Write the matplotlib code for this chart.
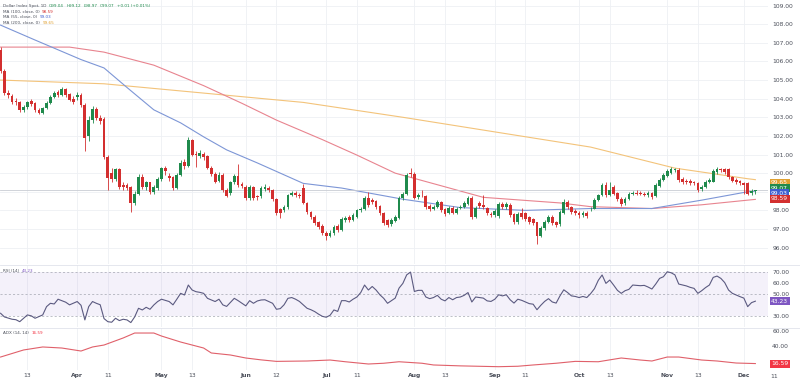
import matplotlib.pyplot as plt
from matplotlib.transforms import blended_transform_factory

# daily candles, Dollar Index Spot (index 0 = first visible bar)
opens = [
    106.60, 105.50, 104.30, 104.15, 103.90, 103.80, 103.40, 103.55, 103.85, 103.75,
    103.40, 103.25, 103.50, 103.75, 104.10, 104.35, 104.20, 104.50, 104.25, 104.00,
    104.10, 104.20, 103.65, 102.00, 102.85, 103.45, 102.95, 102.90, 100.85, 100.00,
    99.70, 100.20, 99.35, 99.35, 99.25, 98.40, 98.90, 99.80, 99.25, 99.50,
    99.00, 99.20, 99.70, 100.25, 99.85, 99.80, 99.20, 99.90, 100.60, 100.40,
    101.80, 101.05, 100.90, 101.05, 100.90, 100.30, 99.95, 99.60, 99.90, 99.10,
    98.95, 99.50, 99.85, 99.40, 99.25, 98.65, 99.25, 98.75, 98.75, 99.15,
    99.20, 99.10, 98.60, 98.05, 98.00, 98.20, 98.85, 98.95, 98.85, 99.20,
    98.40, 97.90, 97.65, 97.35, 97.15, 96.80, 96.65, 96.80, 97.15, 96.95,
    97.50, 97.65, 97.50, 97.65, 98.00, 98.05, 98.65, 98.55, 98.50, 98.25,
    97.85, 97.50, 97.25, 97.45, 97.60, 98.65, 98.90, 100.00, 99.95, 98.70,
    98.85, 98.75, 98.25, 98.10, 98.20, 98.45, 98.05, 97.85, 98.15, 97.85,
    98.15, 98.20, 98.35, 98.65, 97.65, 98.40, 98.30, 98.15, 97.80, 97.75,
    97.70, 98.35, 98.20, 98.30, 97.80, 97.35, 97.85, 97.85, 97.65, 97.55,
    97.35, 96.65, 97.05, 97.40, 97.65, 97.35, 97.25, 97.85, 98.45, 98.20,
    97.95, 97.85, 97.75, 97.85, 98.05, 98.10, 98.55, 98.80, 99.35, 98.85,
    99.25, 98.95, 98.60, 98.40, 98.60, 98.90, 98.95, 98.95, 98.90, 98.80,
    98.95, 98.75, 99.30, 99.65, 99.85, 100.00, 100.15, 100.15, 99.70, 99.60,
    99.60, 99.50, 99.45, 99.15, 99.25, 99.50, 99.55, 100.05, 100.20, 100.20,
    100.20, 99.80, 99.65, 99.60, 99.45, 99.45, 98.95, 99.04,
]
highs = [
    106.75, 105.60, 104.45, 104.25, 104.05, 103.90, 103.65, 103.90, 104.00, 103.80,
    103.50, 103.55, 103.85, 104.20, 104.40, 104.45, 104.65, 104.60, 104.30, 104.15,
    104.35, 104.30, 103.75, 103.05, 103.60, 103.55, 103.10, 103.00, 101.00, 100.25,
    100.30, 100.30, 99.50, 99.45, 99.30, 99.05, 99.95, 99.95, 99.60, 99.55,
    99.35, 99.80, 100.35, 100.40, 100.00, 99.85, 100.00, 100.70, 100.75, 101.95,
    101.85, 101.20, 101.25, 101.15, 100.95, 100.40, 100.05, 100.05, 100.00, 99.20,
    99.60, 99.95, 100.50, 99.50, 99.35, 99.35, 99.30, 98.85, 99.30, 99.40,
    99.30, 99.15, 98.65, 98.15, 98.30, 98.90, 99.05, 99.05, 98.95, 99.40,
    98.45, 97.95, 97.75, 97.45, 97.25, 96.90, 96.95, 97.20, 97.25, 97.65,
    97.70, 97.75, 97.85, 98.10, 98.20, 98.75, 99.00, 98.65, 98.55, 98.30,
    97.90, 97.55, 97.60, 97.75, 98.75, 99.00, 100.00, 100.25, 100.05, 98.95,
    99.10, 98.85, 98.35, 98.30, 98.55, 98.50, 98.15, 98.25, 98.25, 98.20,
    98.30, 98.50, 98.75, 98.75, 98.25, 98.50, 98.80, 98.20, 97.90, 98.05,
    98.45, 98.45, 98.45, 98.40, 97.85, 97.90, 98.15, 97.90, 97.70, 97.60,
    97.40, 97.15, 97.50, 97.75, 97.75, 97.45, 98.00, 98.60, 98.55, 98.25,
    98.05, 97.95, 97.95, 97.95, 98.20, 98.65, 98.90, 99.45, 99.50, 99.50,
    99.35, 99.00, 98.70, 98.70, 99.00, 99.05, 99.10, 99.05, 99.00, 99.05,
    99.00, 99.45, 99.75, 100.00, 100.20, 100.35, 100.30, 100.25, 99.80, 99.70,
    99.70, 99.60, 99.55, 99.35, 99.65, 99.75, 100.20, 100.35, 100.30, 100.30,
    100.25, 99.85, 99.75, 99.65, 99.55, 99.50, 99.15, 99.12,
]
lows = [
    105.40, 104.20, 104.05, 103.70, 103.65, 103.30, 103.30, 103.45, 103.60, 103.30,
    103.15, 103.20, 103.45, 103.70, 104.05, 104.10, 104.15, 104.10, 103.85, 103.70,
    103.95, 103.55, 101.20, 101.75, 102.70, 102.85, 102.65, 100.75, 99.10, 99.55,
    99.60, 99.15, 99.10, 99.10, 97.90, 98.30, 98.85, 99.15, 99.10, 98.90,
    98.90, 99.10, 99.60, 99.90, 99.60, 99.10, 99.15, 99.85, 100.20, 100.35,
    100.90, 100.35, 100.80, 100.70, 100.20, 99.85, 99.45, 99.50, 99.00, 98.70,
    98.85, 99.40, 99.25, 99.20, 98.55, 98.55, 98.55, 98.55, 98.65, 99.05,
    99.00, 98.50, 97.75, 97.60, 97.90, 98.10, 98.75, 98.70, 98.65, 98.35,
    97.80, 97.55, 97.20, 97.00, 96.70, 96.40, 96.55, 96.70, 96.85, 96.90,
    97.40, 97.40, 97.45, 97.60, 97.90, 98.00, 98.20, 98.35, 98.10, 97.75,
    97.20, 97.10, 97.15, 97.35, 97.55, 98.55, 98.85, 99.80, 98.60, 98.60,
    98.70, 98.10, 97.95, 98.00, 98.15, 97.90, 97.70, 97.80, 97.80, 97.80,
    98.10, 98.15, 98.30, 97.55, 97.60, 98.15, 98.10, 97.75, 97.65, 97.65,
    97.60, 98.10, 98.10, 97.65, 97.25, 97.25, 97.55, 97.45, 97.25, 97.20,
    96.20, 96.55, 96.95, 97.30, 97.20, 97.10, 97.15, 97.80, 98.10, 97.80,
    97.75, 97.60, 97.65, 97.60, 97.95, 98.05, 98.50, 98.75, 98.70, 98.75,
    98.80, 98.50, 98.25, 98.30, 98.55, 98.80, 98.80, 98.80, 98.75, 98.70,
    98.60, 98.70, 99.25, 99.60, 99.80, 99.95, 100.05, 99.55, 99.40, 99.40,
    99.35, 99.35, 99.00, 99.05, 99.20, 99.45, 99.50, 99.95, 100.05, 99.95,
    99.70, 99.50, 99.40, 99.35, 98.90, 98.80, 98.85, 98.87,
]
closes = [
    105.50, 104.30, 104.20, 103.80, 103.80, 103.40, 103.55, 103.80, 103.70, 103.40,
    103.25, 103.50, 103.75, 104.10, 104.30, 104.20, 104.50, 104.20, 103.95, 103.80,
    104.20, 103.65, 101.90, 102.85, 103.45, 102.95, 102.80, 100.85, 99.75, 99.70,
    100.20, 99.25, 99.25, 99.20, 98.40, 98.90, 99.80, 99.25, 99.50, 99.00,
    99.25, 99.70, 100.25, 100.10, 99.75, 99.20, 99.90, 100.55, 100.40, 101.80,
    101.00, 100.95, 101.10, 100.85, 100.30, 99.95, 99.55, 99.90, 99.10, 98.75,
    99.50, 99.85, 99.35, 99.30, 98.65, 99.25, 98.65, 98.70, 99.20, 99.25,
    99.10, 98.60, 97.85, 97.85, 98.20, 98.80, 98.95, 98.85, 98.75, 98.40,
    97.90, 97.65, 97.30, 97.10, 96.80, 96.60, 96.80, 97.10, 96.95, 97.55,
    97.60, 97.50, 97.75, 98.00, 98.10, 98.65, 98.30, 98.45, 98.20, 97.85,
    97.30, 97.20, 97.50, 97.65, 98.65, 98.90, 99.90, 99.95, 98.65, 98.80,
    98.80, 98.20, 98.05, 98.20, 98.45, 98.00, 97.80, 98.15, 97.85, 98.10,
    98.20, 98.40, 98.65, 97.65, 98.15, 98.25, 98.20, 97.85, 97.75, 97.95,
    98.35, 98.20, 98.35, 97.75, 97.35, 97.80, 97.65, 97.55, 97.35, 97.30,
    96.65, 97.05, 97.40, 97.65, 97.30, 97.20, 97.90, 98.45, 98.20, 97.90,
    97.85, 97.75, 97.85, 97.70, 98.10, 98.55, 98.80, 99.35, 98.80, 99.10,
    98.90, 98.60, 98.35, 98.60, 98.90, 98.95, 98.90, 98.90, 98.85, 98.95,
    98.70, 99.35, 99.65, 99.90, 100.10, 100.20, 100.20, 99.65, 99.50, 99.50,
    99.45, 99.45, 99.10, 99.25, 99.55, 99.65, 100.10, 100.20, 100.15, 100.05,
    99.80, 99.60, 99.50, 99.45, 99.35, 98.90, 99.05, 99.07,
]

# moving averages (bar index, value)
ma55_idx = [0, 9, 21, 27, 33, 40, 47, 53, 59, 67, 79, 89, 105, 120, 137, 154, 170, 183, 195, 197]
ma55_val = [107.95, 107.15, 106.1, 105.65, 104.6, 103.4, 102.7, 101.95, 101.25, 100.55,
            99.45, 99.2, 98.6, 98.15, 98.0, 98.1, 98.1, 98.55, 99.0, 99.03]
ma100_idx = [0, 18, 27, 40, 53, 63, 72, 84, 93, 103, 126, 146, 154, 170, 183, 195, 197]
ma100_val = [106.77, 106.77, 106.5, 105.8, 104.7, 103.75, 102.85, 101.8, 100.97, 100.0,
             98.7, 98.4, 98.2, 98.1, 98.3, 98.55, 98.59]
ma200_idx = [0, 27, 53, 79, 105, 131, 154, 176, 195, 197]
ma200_val = [105.0, 104.8, 104.3, 103.8, 103.0, 102.15, 101.4, 100.27, 99.7, 99.65]

rsi_idx = [0, 1, 3, 4, 5, 6, 7, 8, 9, 11, 12, 13, 14, 15, 17, 18, 20, 21, 22, 23,
           24, 25, 26, 27, 28, 29, 30, 31, 32, 33, 34, 35, 36, 37, 38, 39, 40, 41, 42, 44,
           45, 46, 47, 48, 49, 50, 51, 52, 53, 54, 56, 57, 58, 59, 61, 62, 63, 64, 65, 66,
           67, 68, 69, 70, 71, 72, 73, 74, 75, 76, 77, 78, 79, 80, 81, 82, 83, 84, 85, 86,
           87, 88, 89, 90, 91, 92, 93, 94, 95, 96, 97, 98, 99, 100, 101, 102, 103, 104, 105, 106,
           107, 108, 109, 110, 111, 112, 113, 114, 115, 116, 117, 118, 119, 120, 121, 122, 123, 124, 125, 126,
           127, 128, 129, 130, 131, 132, 133, 134, 135, 136, 137, 138, 139, 140, 141, 142, 143, 144, 145, 146,
           147, 148, 149, 150, 151, 152, 153, 154, 155, 156, 157, 158, 159, 160, 161, 162, 163, 164, 165, 166,
           167, 168, 169, 170, 171, 172, 173, 174, 175, 176, 177, 178, 179, 180, 181, 182, 183, 184, 185, 186,
           187, 188, 189, 190, 191, 192, 193, 194, 195, 196, 197]
rsi_val = [32.3, 29.0, 26.9, 26.5, 24.7, 27.8, 30.8, 30.0, 27.8, 30.8, 38.3, 41.3, 40.7, 45.0, 42.3, 39.9, 42.9, 39.5, 26.3, 38.3,
           42.9, 41.3, 40.0, 27.5, 24.7, 24.2, 27.8, 25.7, 26.9, 26.3, 23.9, 29.0, 36.8, 35.3, 37.7, 35.9, 39.8, 42.9, 45.0, 42.9,
           39.9, 45.0, 50.3, 48.8, 57.8, 53.3, 51.8, 51.2, 50.3, 45.8, 42.9, 45.0, 39.9, 38.5, 45.8, 43.7, 41.3, 39.0, 43.7, 41.3,
           43.4, 44.3, 44.5, 42.9, 41.3, 35.9, 36.5, 40.0, 45.8, 46.5, 45.0, 43.0, 39.9, 36.8, 35.5, 33.8, 31.5, 29.5, 28.7, 30.5,
           35.3, 34.0, 43.7, 43.7, 42.5, 45.0, 47.0, 51.0, 57.8, 53.3, 56.5, 53.3, 49.0, 45.8, 41.3, 43.7, 46.0, 55.0, 59.3, 67.0,
           69.5, 52.0, 53.0, 53.0, 47.0, 45.5, 46.5, 48.5, 45.0, 43.5, 46.5, 44.5, 46.5, 47.0, 48.5, 51.0, 42.5, 47.0, 46.5, 46.0,
           43.5, 43.0, 45.0, 49.0, 48.0, 49.0, 44.5, 41.5, 45.0, 44.0, 42.5, 41.0, 40.5, 35.5, 39.5, 43.0, 45.5, 42.5, 41.5, 48.0,
           53.5, 51.0, 48.0, 47.5, 46.5, 47.5, 46.5, 50.0, 54.5, 62.0, 66.9, 59.3, 62.3, 57.8, 53.0, 50.3, 52.7, 53.9, 57.8, 57.5,
           57.2, 57.5, 56.0, 54.2, 58.7, 63.8, 65.3, 69.8, 68.9, 67.0, 58.7, 57.8, 57.0, 55.7, 54.8, 50.3, 52.7, 55.5, 57.8, 64.7,
           65.9, 63.8, 60.0, 53.3, 50.3, 48.8, 47.3, 46.0, 38.3, 41.9, 43.23]

adx_idx = [0, 6, 11, 16, 21, 24, 27, 32, 35, 40, 42, 47, 53, 55, 60, 64, 68, 72, 80, 86,
           90, 96, 100, 104, 110, 113, 120, 130, 135, 139, 145, 150, 156, 162, 167, 170, 174, 177, 183, 187,
           192, 197]
adx_val = [25.3, 34.7, 38.7, 37.3, 33.3, 38.7, 41.3, 50.7, 57.3, 57.3, 53.3, 45.3, 37.3, 30.7, 28.0, 24.0, 21.5, 19.5, 20.0, 21.3,
           19.0, 16.0, 17.0, 19.0, 17.0, 14.7, 13.5, 12.4, 13.0, 14.7, 17.0, 19.5, 19.0, 24.0, 21.3, 20.0, 25.3, 25.3, 21.3, 20.0,
           17.3, 16.59]

tick_idx = [7, 20, 28, 42, 50, 64, 72, 85, 93, 108, 116, 129, 137, 151, 159, 174, 182, 194]
tick_lbl = ["13", "Apr", "11", "May", "13", "Jun", "12", "Jul", "11", "Aug", "13",
            "Sep", "11", "Oct", "13", "Nov", "13", "Dec"]

UP = "#1f8a4c"
DOWN = "#d32f2f"
BLUE = "#3f5fd0"
GOLD = "#e0a030"
GRID = "#eef0f4"
TXT = "#4a4e59"
FS = 4.3
LFS = 3.0

W, H = 800, 382
fig = plt.figure(figsize=(W / 100, H / 100), dpi=100)
fig.patch.set_facecolor("white")
renderer = fig.canvas.get_renderer()


def panel(top, bottom):
    ax = fig.add_axes([0, 1 - bottom / H, 768 / W, (bottom - top) / H])
    for s in ax.spines.values():
        s.set_visible(False)
    ax.yaxis.tick_right()
    ax.tick_params(axis="y", length=0, pad=3, labelsize=FS, labelcolor=TXT)
    ax.tick_params(axis="x", length=0, labelbottom=False)
    ax.set_xlim(-0.15, 200.3)
    ax.set_xticks(tick_idx)
    ax.grid(True, axis="x", color=GRID, lw=0.6)
    ax.set_axisbelow(True)
    return ax


def legend_line(y_px, parts):
    # parts placed one after another, left to right, in figure pixels
    x = 3
    for s, col in parts:
        t = fig.text(x / W, 1 - y_px / H, s, fontsize=LFS, color=col, va="center", ha="left")
        x += t.get_window_extent(renderer).width + 2.5


def price_box(axis, yv, txt, col):
    tr = blended_transform_factory(axis.transAxes, axis.transData)
    axis.text(1.004, yv, txt, transform=tr, fontsize=FS, color="white", va="center",
              ha="left", bbox=dict(boxstyle="square,pad=0.25", fc=col, ec="none"),
              clip_on=False)


ax = panel(0, 264)
ax_rsi = panel(265, 327)
ax_adx = panel(328, 370)

# main price panel
ax.set_ylim(95.12, 109.3)
ax.set_yticks(range(96, 110))
ax.set_yticklabels([f"{v:.2f}" for v in range(96, 110)])
ax.grid(True, axis="y", color=GRID, lw=0.6)

n = len(closes)
for i in range(n):
    o, h, l, c = opens[i], highs[i], lows[i], closes[i]
    col = UP if c >= o else DOWN
    ax.vlines(i, l, h, color=col, lw=0.6, zorder=2)
    ax.bar(i, max(abs(c - o), 0.03), bottom=min(o, c), width=0.72, color=col,
           lw=0, zorder=3)

ax.plot(ma200_idx, ma200_val, color="#f3c37a", lw=0.8, zorder=1)
ax.plot(ma100_idx, ma100_val, color="#e8848f", lw=0.8, zorder=1)
ax.plot(ma55_idx, ma55_val, color="#7d96d6", lw=0.8, zorder=1)
ax.axhline(closes[-1], color="#c9ccd3", lw=0.6, zorder=1)

# price labels on the scale (stacked so they don't overlap)
price_box(ax, 99.49, "99.65", GOLD)
price_box(ax, 99.20, "99.07", UP)
price_box(ax, 98.91, "99.03", BLUE)
price_box(ax, 98.62, "98.59", DOWN)

legend_line(6, [("Dollar Index Spot, 1D", TXT), ("O99.04", UP), ("H99.12", UP),
                ("L98.97", UP), ("C99.07", UP), ("+0.01 (+0.01%)", UP)])
legend_line(12, [("MA (100, close, 0)", TXT), ("98.59", DOWN)])
legend_line(17.5, [("MA (55, close, 0)", TXT), ("99.03", BLUE)])
legend_line(23, [("MA (200, close, 0)", TXT), ("99.65", GOLD)])

# RSI panel
ax_rsi.set_ylim(19.9, 75.9)
ax_rsi.set_yticks([30, 50, 60, 70])
ax_rsi.set_yticklabels(["30.00", "50.00", "60.00", "70.00"])
ax_rsi.axhspan(30, 70, color="#7e57c2", alpha=0.08, lw=0)
for lv in (30, 50, 70):
    ax_rsi.axhline(lv, color="#a3a6b0", lw=0.5, ls=(0, (3, 3)))
ax_rsi.plot(rsi_idx, rsi_val, color="#5b5a80", lw=0.8)
price_box(ax_rsi, 43.23, "43.23", "#7e57c2")
legend_line(271, [("RSI (14)", TXT), ("43.23", "#7e57c2")])

# ADX panel
ax_adx.set_ylim(8, 64)
ax_adx.set_yticks([40, 60])
ax_adx.set_yticklabels(["40.00", "60.00"])
ax_adx.plot(adx_idx, adx_val, color="#e0606a", lw=0.8)
price_box(ax_adx, 16.59, "16.59", "#f23645")
legend_line(333, [("ADX (14, 14)", TXT), ("16.59", "#f23645")])

# separators between panels
for y_px in (264.5, 327.5):
    fig.add_artist(plt.Line2D([0, 1], [1 - y_px / H, 1 - y_px / H], color="#e0e3eb", lw=0.6))

# time axis
ax_adx.tick_params(axis="x", labelbottom=True, pad=2.5, labelsize=FS, labelcolor=TXT)
ax_adx.set_xticklabels(tick_lbl)
for t, s in zip(ax_adx.get_xticklabels(), tick_lbl):
    if not s.isdigit():
        t.set_fontweight("bold")
ax_adx.text(202, -0.105, "11", transform=blended_transform_factory(ax_adx.transData, ax_adx.transAxes),
            fontsize=FS, color=TXT, ha="center", va="top", clip_on=False)

fig.savefig("out.png", dpi=100)
